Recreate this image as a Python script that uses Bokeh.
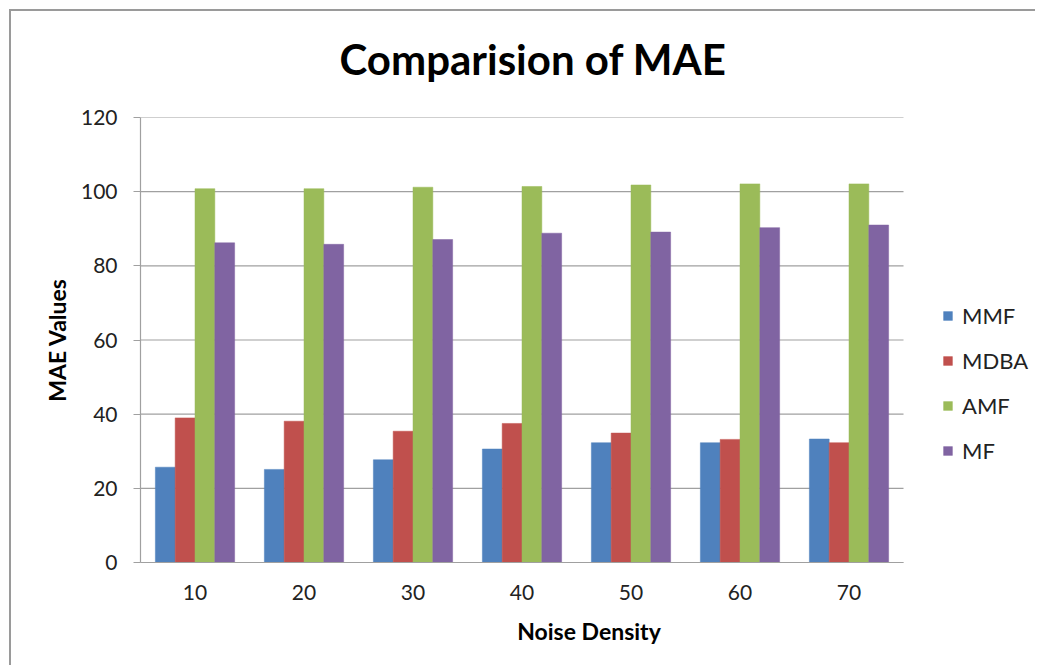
from bokeh.plotting import figure
from bokeh.models import Legend, LegendItem, Title, ColumnDataSource, Range1d, FixedTicker
from bokeh.embed import file_html
from bokeh.resources import INLINE

categories = ["10", "20", "30", "40", "50", "60", "70"]
series_names = ["MMF", "MDBA", "AMF", "MF"]
MMF = [25.7, 25.1, 27.7, 30.6, 32.3, 32.3, 33.3]
MDBA = [39.0, 38.1, 35.4, 37.5, 34.9, 33.2, 32.3]
AMF = [100.8, 100.8, 101.2, 101.4, 101.8, 102.1, 102.1]
MF = [86.2, 85.8, 87.1, 88.8, 89.1, 90.3, 91.0]
y_ticks = [0, 20, 40, 60, 80, 100, 120]
colors = ["#4F81BD", "#C0504D", "#9BBB59", "#8064A2"]

FONT = "Lato"
GRID = "#a0a0a0"

n = len(categories)
pos = list(range(1, n + 1))
data = dict(pos=pos, MMF=MMF, MDBA=MDBA, AMF=AMF, MF=MF)

W, H = 1026, 656
LEFT, RIGHT = 129, 0
frame_px = W - LEFT - RIGHT
plot_px = 763  # pixel width of the category area in the reference
x_end = 0.5 + frame_px * n / plot_px

p = figure(x_range=Range1d(0.5, x_end), y_range=Range1d(0, 120), width=W, height=H,
           output_backend="svg", toolbar_location=None,
           min_border_left=LEFT, min_border_right=RIGHT, min_border_top=106, min_border_bottom=H - 551)
p.styles = {"margin-left": "9px", "margin-top": "9px",
            "border-top": "2px solid #9a9a9a", "border-left": "2px solid #9a9a9a"}
p.outline_line_color = None
p.xgrid.grid_line_color = None
p.ygrid.grid_line_color = None

# horizontal gridlines limited to the category area
p.segment(x0=[0.5] * len(y_ticks), x1=[n + 0.5] * len(y_ticks), y0=y_ticks, y1=y_ticks,
          line_color=GRID, line_width=1.2)

bw = 1 / 5.5
offsets = [-1.5 * bw, -0.5 * bw, 0.5 * bw, 1.5 * bw]
renderers = []
for name, off, c in zip(series_names, offsets, colors):
    src = ColumnDataSource(dict(x=[v + off for v in data["pos"]], top=data[name]))
    r = p.vbar(x="x", top="top", width=bw, source=src,
               fill_color=c, line_color=c, line_width=0.5)
    renderers.append(r)

# spacer (closest to the frame), then the main title above it
spacer = Title(text=" ", text_font_size="8px", standoff=3, text_color="#ffffff")
p.add_layout(spacer, "above")
t = Title(text="Comparision of MAE", align="left", offset=(531 - 11 - 129) - 192,
          text_font=FONT, text_font_size="42px",
          text_font_style="bold", text_color="#000000", standoff=39)
p.add_layout(t, "above")

p.xaxis.ticker = FixedTicker(ticks=pos)
p.xaxis.major_label_overrides = {v: c for v, c in zip(pos, categories)}
p.xaxis.bounds = (0.5, n + 0.5)
p.yaxis.ticker = FixedTicker(ticks=y_ticks)

for ax in (p.xaxis[0], p.yaxis[0]):
    ax.axis_line_color = GRID
    ax.axis_line_width = 1.2
    ax.major_label_text_font = FONT
    ax.major_label_text_font_size = "21px"
    ax.major_label_text_color = "#222222"
    ax.axis_label_text_font = FONT
    ax.axis_label_text_font_size = "23px"
    ax.axis_label_text_font_style = "bold"
    ax.axis_label_text_color = "#000000"
    ax.minor_tick_line_color = None

p.yaxis.major_tick_line_color = GRID
p.yaxis.major_tick_out = 7
p.yaxis.major_tick_in = 0
p.yaxis.major_label_standoff = 16
p.yaxis.axis_label = "MAE Values"
p.yaxis.axis_label_standoff = 7

p.xaxis.major_tick_line_color = None
p.xaxis.major_tick_out = 0
p.xaxis.major_tick_in = 0
p.xaxis.major_label_standoff = 22
p.xaxis.axis_label = "Noise Density"
p.xaxis.axis_label_standoff = 14

legend = Legend(items=[LegendItem(label=s, renderers=[r]) for s, r in zip(series_names, renderers)],
                location=(802, 98), padding=0, margin=0, spacing=18,
                glyph_width=11, glyph_height=11, label_standoff=9,
                label_text_font=FONT, label_text_font_size="22px", label_text_color="#222222",
                border_line_color=None, background_fill_alpha=0)
p.add_layout(legend, "center")

open("out.html", "w").write(file_html(p, INLINE))
